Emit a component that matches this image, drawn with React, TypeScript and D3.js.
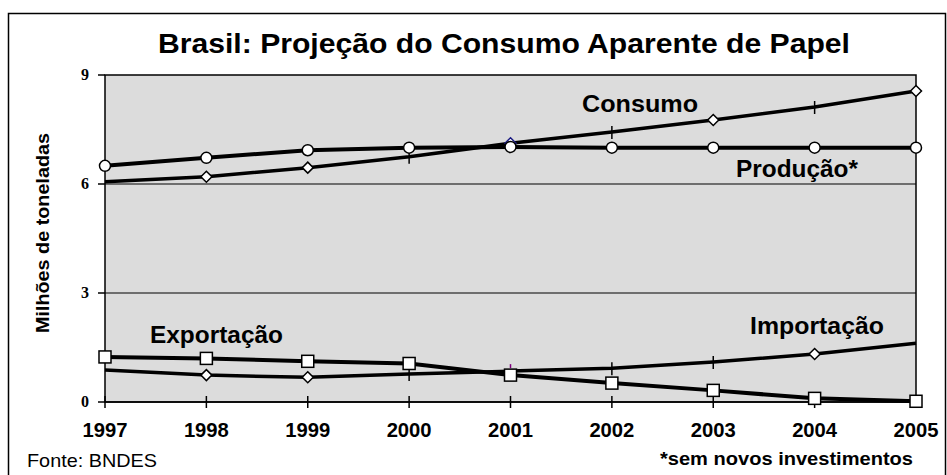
import React from 'react';
import * as d3 from 'd3';

const years = [1997, 1998, 1999, 2000, 2001, 2002, 2003, 2004, 2005];
const yTicks = [0, 3, 6, 9];

const producao = [6.5, 6.72, 6.93, 7.0, 7.02, 7.0, 7.0, 7.0, 7.0];
const consumo = [6.06, 6.2, 6.45, 6.75, 7.12, 7.43, 7.76, 8.12, 8.56];
const exportacao = [1.24, 1.2, 1.12, 1.06, 0.74, 0.52, 0.32, 0.1, 0.02];
const importacao = [0.88, 0.74, 0.68, 0.77, 0.85, 0.93, 1.1, 1.32, 1.62];

// marker kind at each year (it is not regular)
const consumoMarks = ['none', 'diamond', 'diamond', 'plus', 'diamondNavy', 'plus', 'diamond', 'plus', 'diamond'];
const producaoMarks = years.map(() => 'circle');
const exportacaoMarks = years.map(() => 'square');
const importacaoMarks = ['none', 'diamond', 'diamond', 'plus', 'tickPurple', 'plus', 'plus', 'diamond', 'none'];

const W = 947;
const H = 475;
const plot = { left: 105, right: 916, top: 75, bottom: 402 };
const sans = '"Liberation Sans", Arial, sans-serif';
const serif = '"Liberation Serif", "Times New Roman", serif';

const x = d3.scalePoint<number>().domain(years).range([plot.left, plot.right]);
const y = d3.scaleLinear().domain([0, 9]).range([plot.bottom, plot.top]);

const line = d3.line<number>()
  .x((_, i) => x(years[i]) as number)
  .y(d => y(d));

function Marker({ kind, cx, cy }: { kind: string; cx: number; cy: number }) {
  if (kind === 'circle') {
    return <circle cx={cx} cy={cy} r={5.5} fill="#fff" stroke="#000" strokeWidth={1.5} />;
  }
  if (kind === 'square') {
    return <rect x={cx - 6} y={cy - 6} width={12} height={12} fill="#fff" stroke="#000" strokeWidth={1.5} />;
  }
  if (kind === 'diamond' || kind === 'diamondNavy') {
    const r = 5.5;
    return (
      <path
        d={`M${cx},${cy - r}L${cx + r},${cy}L${cx},${cy + r}L${cx - r},${cy}Z`}
        fill="#fff"
        stroke={kind === 'diamondNavy' ? '#1a1a80' : '#000'}
        strokeWidth={1.5}
      />
    );
  }
  if (kind === 'plus') {
    return <line x1={cx} x2={cx} y1={cy - 6} y2={cy + 7} stroke="#000" strokeWidth={1.5} />;
  }
  if (kind === 'tickPurple') {
    return <line x1={cx} x2={cx} y1={cy - 7} y2={cy - 3} stroke="#800080" strokeWidth={1.5} />;
  }
  return null;
}

function Series({ values, marks, width }: { values: number[]; marks: string[]; width: number }) {
  return (
    <g>
      <path d={line(values) || ''} fill="none" stroke="#000" strokeWidth={width} strokeLinejoin="round" />
      {values.map((v, i) => (
        <Marker key={i} kind={marks[i]} cx={x(years[i]) as number} cy={y(v)} />
      ))}
    </g>
  );
}

export default function App() {
  return (
    <svg width={W} height={H} style={{ position: 'absolute', left: 0, top: 0, background: '#fff' }}>
      {/* outer frame */}
      <rect x={8.5} y={13.5} width={937} height={470} fill="#fff" stroke="#000" strokeWidth={1.5} />

      <text x={158} y={53} fontFamily={sans} fontWeight="bold" fontSize={28} textLength={692} lengthAdjust="spacingAndGlyphs">
        Brasil: Projeção do Consumo Aparente de Papel
      </text>

      {/* plot area */}
      <rect x={plot.left} y={plot.top} width={plot.right - plot.left} height={plot.bottom - plot.top} fill="#dcdcdc" stroke="#000" strokeWidth={1.5} />
      {yTicks.filter(t => t > 0 && t < 9).map(t => (
        <line key={t} x1={plot.left} x2={plot.right} y1={y(t)} y2={y(t)} stroke="#000" strokeWidth={1} />
      ))}

      {/* y axis */}
      {yTicks.map(t => (
        <g key={t}>
          <line x1={plot.left - 7} x2={plot.left} y1={y(t)} y2={y(t)} stroke="#000" strokeWidth={1.5} />
          <text x={89} y={y(t) + 5} textAnchor="end" fontFamily={serif} fontWeight="bold" fontSize={16}>
            {t}
          </text>
        </g>
      ))}
      <text
        transform={`translate(49,233) rotate(-90)`}
        textAnchor="middle"
        fontFamily={sans}
        fontWeight="bold"
        fontSize={18}
        textLength={200}
        lengthAdjust="spacingAndGlyphs"
      >
        Milhões de toneladas
      </text>

      {/* x axis */}
      <line x1={plot.left} x2={plot.right} y1={plot.bottom} y2={plot.bottom} stroke="#000" strokeWidth={1.5} />
      {years.map(yr => (
        <g key={yr}>
          <line x1={x(yr)} x2={x(yr)} y1={plot.bottom - 6} y2={plot.bottom + 6} stroke="#000" strokeWidth={1.5} />
          <text x={x(yr)} y={437} textAnchor="middle" fontFamily={sans} fontWeight="bold" fontSize={20} textLength={45} lengthAdjust="spacingAndGlyphs">
            {yr}
          </text>
        </g>
      ))}

      {/* series */}
      <Series values={importacao} marks={importacaoMarks} width={3.5} />
      <Series values={consumo} marks={consumoMarks} width={3.5} />
      <Series values={producao} marks={producaoMarks} width={4} />
      <Series values={exportacao} marks={exportacaoMarks} width={4} />

      {/* series labels */}
      <text x={582} y={112} fontFamily={sans} fontWeight="bold" fontSize={23.5} textLength={116} lengthAdjust="spacingAndGlyphs">Consumo</text>
      <text x={736} y={177} fontFamily={sans} fontWeight="bold" fontSize={23.5} textLength={122} lengthAdjust="spacingAndGlyphs">Produção*</text>
      <text x={150} y={343} fontFamily={sans} fontWeight="bold" fontSize={23.5} textLength={133} lengthAdjust="spacingAndGlyphs">Exportação</text>
      <text x={750} y={334} fontFamily={sans} fontWeight="bold" fontSize={23.5} textLength={134} lengthAdjust="spacingAndGlyphs">Importação</text>

      {/* footer */}
      <text x={27} y={467} fontFamily={sans} fontSize={19} textLength={130} lengthAdjust="spacingAndGlyphs">Fonte: BNDES</text>
      <text x={660} y={465} fontFamily={sans} fontWeight="bold" fontSize={19} textLength={253} lengthAdjust="spacingAndGlyphs">*sem novos investimentos</text>
    </svg>
  );
}
